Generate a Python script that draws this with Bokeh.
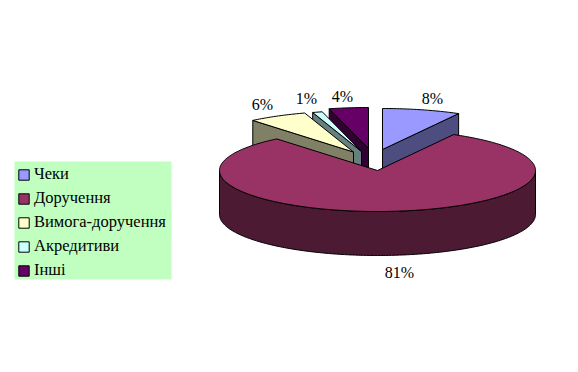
import math
from bokeh.plotting import figure
from bokeh.models import Range1d, Legend, LegendItem
from bokeh.core.properties import value
from bokeh.embed import file_html
from bokeh.resources import INLINE

categories = ["Чеки", "Доручення", "Вимога-доручення", "Акредитиви", "Інші"]
percents = [8, 81, 6, 1, 4]
labels = ["8%", "81%", "6%", "1%", "4%"]
top_colors = ["#9999FF", "#993366", "#FFFFCC", "#CCFFFF", "#660066"]
wall_colors = ["#4D4D80", "#4D1A33", "#808066", "#668080", "#330033"]

# layout (screen pixels, the plot's ranges are set to match them)
centers_x = [382, 377, 353, 361, 368]
centers_y = [149, 170, 151.5, 151, 148]
label_x = [432, 399, 262, 306, 342]
label_y = [98, 272, 104, 98, 96]
RX, RY, DEPTH = 158, 41, 44

p = figure(width=562, height=356, output_backend="svg", toolbar_location=None,
           x_range=Range1d(0, 562), y_range=Range1d(356, 0), min_border=0,
           x_axis_type=None, y_axis_type=None, outline_line_color=None)
p.grid.visible = False


def pt(cx, cy, deg, dz=0):
    a = math.radians(deg)
    return cx + RX * math.sin(a), cy - RY * math.cos(a) + dz


def arc(cx, cy, a0, a1, dz=0):
    n = max(2, int(abs(a1 - a0)))
    return [pt(cx, cy, a0 + (a1 - a0) * i / n, dz) for i in range(n + 1)]


bounds = []
acc = 0
for v in percents:
    bounds.append((acc * 3.6, (acc + v) * 3.6))
    acc += v

p.quad(left=[14], right=[171], top=[161], bottom=[279], fill_color="#C0FFC0", line_color=None)

tops = {}
for i in [4, 3, 2, 0, 1]:
    a0, a1 = bounds[i]
    cx, cy = centers_x[i], centers_y[i]
    if i == 1:
        w = arc(cx, cy, 90, 270) + arc(cx, cy, 270, 90, DEPTH)
    else:
        edge = a1 if i == 0 else a0
        ox, oy = pt(cx, cy, edge)
        w = [(cx, cy), (ox, oy), (ox, oy + DEPTH), (cx, cy + DEPTH)]
    p.patch([q[0] for q in w], [q[1] for q in w], fill_color=wall_colors[i],
            line_color="black", line_width=1)
    t = [(cx, cy)] + arc(cx, cy, a0, a1)
    tops[i] = p.patch([q[0] for q in t], [q[1] for q in t], fill_color=top_colors[i],
                      line_color="black", line_width=1)

p.text(label_x, label_y, text=labels, text_font=value("Liberation Serif"),
       text_font_size="16px", text_color="black",
       text_align="center", text_baseline="middle")

legend = Legend(
    items=[LegendItem(label=c, renderers=[tops[i]]) for i, c in enumerate(categories)],
    location=(17, 76), orientation="vertical",
    background_fill_alpha=0, border_line_color=None,
    label_text_font="Liberation Serif", label_text_font_size="16.5px", label_text_color="black",
    glyph_width=13, glyph_height=13, label_standoff=4, spacing=4,
    margin=0, padding=0, label_height=16,
)
p.add_layout(legend, "center")

open("out.html", "w").write(file_html(p, INLINE))
